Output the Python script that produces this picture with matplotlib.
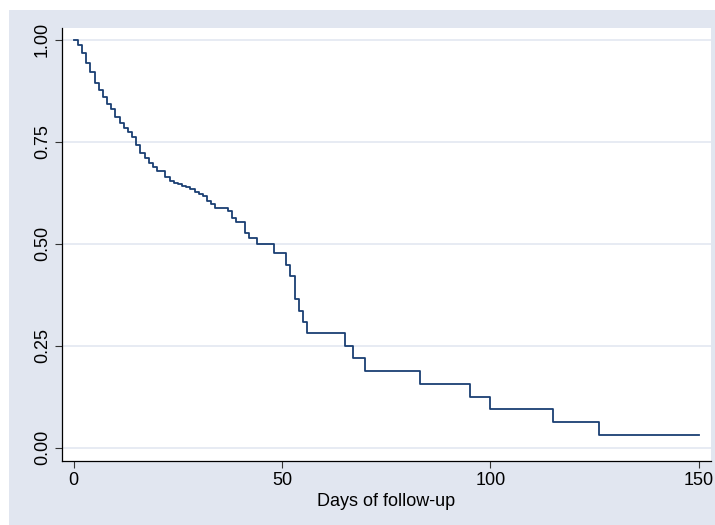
import matplotlib
matplotlib.use("Agg")
import matplotlib.pyplot as plt
from matplotlib.patches import Rectangle

# Kaplan-Meier estimate: event day and survival after that day
days = [0, 1, 2, 3, 4, 5, 6, 7, 8, 9, 10, 11, 12, 13, 14, 15, 16, 17, 18, 19, 20,
        22, 23, 24, 25, 26, 27, 28, 29, 30, 31, 32, 33, 34, 37, 38, 39, 41, 42, 44,
        48, 51, 52, 53, 54, 55, 56, 65, 67, 70, 83, 95, 100, 115, 126, 150]
surv = [1.0, 0.988, 0.968, 0.944, 0.921, 0.893, 0.877, 0.860, 0.842, 0.829, 0.811,
        0.795, 0.783, 0.775, 0.761, 0.742, 0.722, 0.709, 0.697, 0.688, 0.678,
        0.664, 0.654, 0.650, 0.646, 0.642, 0.638, 0.635, 0.627, 0.623, 0.616,
        0.605, 0.597, 0.587, 0.581, 0.562, 0.554, 0.527, 0.515, 0.500,
        0.478, 0.449, 0.420, 0.364, 0.335, 0.308, 0.280, 0.250, 0.219, 0.1875,
        0.156, 0.125, 0.094, 0.0625, 0.031, 0.031]

xticks = [0, 50, 100, 150]
yticks = [0.0, 0.25, 0.5, 0.75, 1.0]
ytick_labels = ["0.00", "0.25", "0.50", "0.75", "1.00"]

bg = "#e1e6f0"
grid_col = "#e3e8f1"
line_col = "#1a3f73"

plt.rcParams["font.family"] = ["Liberation Sans", "DejaVu Sans"]

fig = plt.figure(figsize=(7.15, 5.25), dpi=100, facecolor="white")
fig.patches.append(Rectangle((9 / 715, 0), 1, 1 - 9.5 / 525, transform=fig.transFigure,
                             facecolor=bg, edgecolor="none", zorder=-10))

ax = fig.add_axes([62 / 715, 1 - 461 / 525, (711 - 62) / 715, (461 - 28) / 525])
ax.set_facecolor("white")
ax.step(days, surv, where="post", color=line_col, lw=1.3)

ax.set_xlim(-2.8, 152.9)
ax.set_ylim(-0.0326, 1.0287)
ax.set_xticks(xticks)
ax.set_yticks(yticks)
ax.set_yticklabels(ytick_labels, rotation=90, va="center")
ax.yaxis.grid(True, color=grid_col, lw=1.2)
ax.set_axisbelow(True)

for s in ["top", "right"]:
    ax.spines[s].set_visible(False)
for s in ["left", "bottom"]:
    ax.spines[s].set_color("black")
    ax.spines[s].set_linewidth(0.9)

ax.tick_params(axis="both", direction="out", length=5, width=0.8, color="#333333",
               labelsize=13, pad=3)
ax.set_xlabel("Days of follow-up", fontsize=13, labelpad=3)

fig.savefig("out.png", dpi=100, facecolor=fig.get_facecolor())
